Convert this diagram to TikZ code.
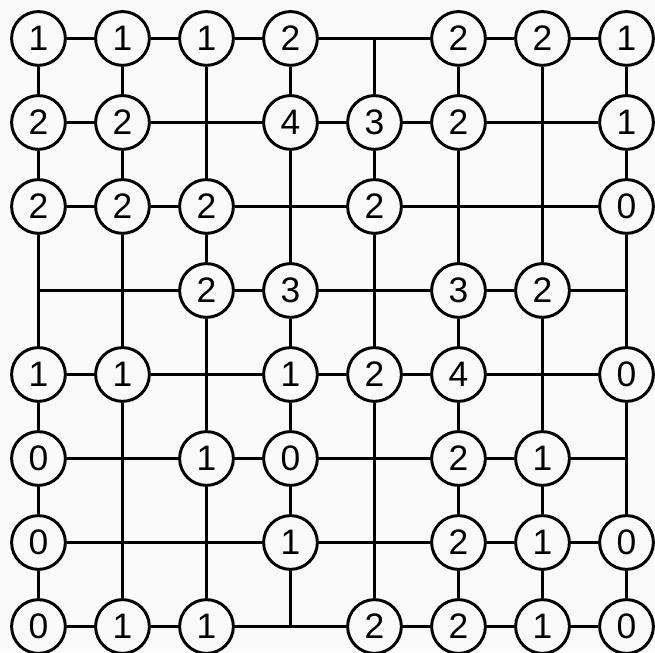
\documentclass[tikz,border=0pt]{standalone}
\usepackage{fontspec}
\setmainfont{Liberation Sans}
\usepackage{tikz}
\definecolor{paper}{HTML}{FAFAFA}

\begin{document}
\begin{tikzpicture}[
    cell/.style={circle, draw=black, fill=paper, line width=1pt,
                 minimum size=0.64cm, inner sep=0pt,
                 font=\fontsize{12}{14}\selectfont},
    link/.style={line width=1pt, black}
]
    % background and margins
    \fill[paper] (-0.458,0.458) rectangle (7.339,-7.304);
    \useasboundingbox (-0.458,0.458) rectangle (7.339,-7.304);

    % every grid crossing first, circled cells then take over their names
    \foreach \row in {0,...,7}
        \foreach \col in {0,...,7}
            \coordinate (p-\row-\col) at (\col,-\row);

    \foreach \row/\col/\num in {
        0/0/1, 0/1/1, 0/2/1, 0/3/2, 0/5/2, 0/6/2, 0/7/1,
        1/0/2, 1/1/2, 1/3/4, 1/4/3, 1/5/2, 1/7/1,
        2/0/2, 2/1/2, 2/2/2, 2/4/2, 2/7/0,
        3/2/2, 3/3/3, 3/5/3, 3/6/2,
        4/0/1, 4/1/1, 4/3/1, 4/4/2, 4/5/4, 4/7/0,
        5/0/0, 5/2/1, 5/3/0, 5/5/2, 5/6/1,
        6/0/0, 6/3/1, 6/5/2, 6/6/1, 6/7/0,
        7/0/0, 7/1/1, 7/2/1, 7/4/2, 7/5/2, 7/6/1, 7/7/0}
        \node[cell] (p-\row-\col) at (\col,-\row) {\num};

    % horizontal and vertical links
    \foreach \row in {0,...,7}
        \foreach \col in {0,...,6} {
            \pgfmathtruncatemacro{\nxt}{\col+1}
            \draw[link] (p-\row-\col) -- (p-\row-\nxt);
            \draw[link] (p-\col-\row) -- (p-\nxt-\row);
        }
\end{tikzpicture}
\end{document}
